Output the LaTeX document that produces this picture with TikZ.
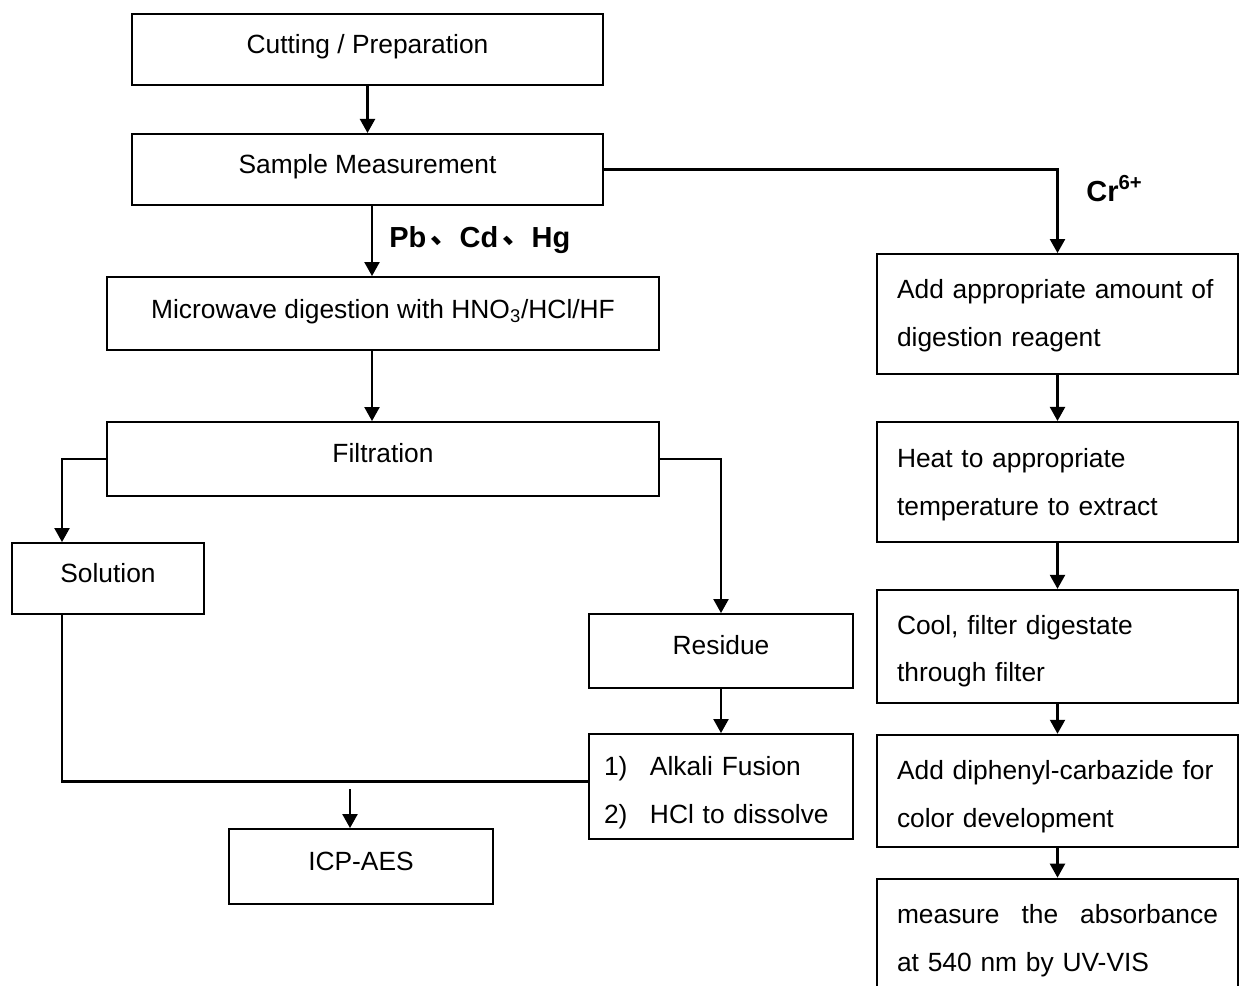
\documentclass[tikz,border=0pt]{standalone}
\usepackage{fontspec}
\setmainfont{Liberation Sans}
\newfontfamily\cjk{Noto Sans CJK SC}
\usetikzlibrary{arrows.meta, positioning, calc}

\begin{document}
\begin{tikzpicture}[
  x=0.02cm, y=-0.02cm,
  font=\fontsize{15pt}{27.2pt}\selectfont,
  box/.style = {draw, line width=1.1pt, inner sep=0pt, text height=0.72em, text depth=0.3em},
  stepbox/.style = {draw, line width=1.1pt, inner xsep=0.4cm, inner ysep=0pt, text width=6.42cm, align=left},
  drop/.style = {execute at begin node={\rule{0pt}{#1}}},
  arrow/.style = {line width=1.3pt, -{Triangle[width=3mm, length=2.8mm]}},
  link/.style = {line width=1.3pt},
  tag/.style = {font=\fontsize{16.5pt}{20pt}\selectfont\bfseries, inner sep=0pt, anchor=base west}
]

  \useasboundingbox (0,0) rectangle (1240,985);

  % Preparation and weighing
  \node[box, minimum width=9.42cm, minimum height=1.42cm] (cut) at (367.5,49.5) {Cutting / Preparation};
  \node[box, minimum width=9.42cm, minimum height=1.42cm, below=0.94cm of cut] (sample) {Sample Measurement};

  % Pb, Cd, Hg branch
  \node[box, text height=0.85em, minimum width=11.04cm, minimum height=1.46cm] (micro) at (383,313.5) {Microwave digestion with HNO\textsubscript{3}/HCl/HF};
  \node[box, minimum width=11.04cm, minimum height=1.48cm] (filt) at (383,459) {Filtration};
  \node[box, minimum width=3.84cm, minimum height=1.42cm] (sol) at (108,578.5) {Solution};
  \node[box, minimum width=5.28cm, minimum height=1.48cm] (res) at (721,651) {Residue};
  \node[draw, line width=1.1pt, inner xsep=0.3cm, inner ysep=0pt, text width=4.68cm, align=left,
        minimum height=2.1cm, drop=0.64cm] (alk) at (721,786.5)
        {\makebox[0.92cm][l]{1)}Alkali Fusion\\\makebox[0.92cm][l]{2)}HCl to dissolve};
  \node[box, minimum width=5.28cm, minimum height=1.5cm] (icp) at (361,866.5) {ICP-AES};

  % Cr(VI) branch
  \node[stepbox, minimum height=2.4cm, drop=0.44cm] (add) at (1057.5,314) {Add appropriate amount of\\digestion reagent};
  \node[stepbox, minimum height=2.4cm, drop=0.5cm, below=0.92cm of add] (heat) {Heat to appropriate\\temperature to extract};
  \node[stepbox, minimum height=2.26cm, drop=0.58cm, below=0.92cm of heat] (cool) {Cool, filter digestate\\through filter};
  \node[stepbox, minimum height=2.24cm, drop=0.62cm, below=0.6cm of cool] (dpc) {Add diphenyl-carbazide for\\color development};
  \node[stepbox, minimum height=2.24cm, drop=0.62cm, below=0.6cm of dpc] (uvvis) {measure\hfill the\hfill absorbance\\at 540 nm by UV-VIS};

  % labels
  \node[tag] (pbcd) at (389,247) {Pb\kern0.15em\raisebox{0.12em}{\cjk 、}Cd\kern0.15em\raisebox{0.12em}{\cjk 、}Hg};
  \node[tag] (cr) at (1086,201) {Cr\textsuperscript{6+}};

  % connectors
  \coordinate (spine) at (372,0);
  \coordinate (merge) at (350,789);
  \draw[arrow] (cut) -- (sample);
  \draw[arrow] (sample.south -| spine) -- (micro.north -| spine);
  \draw[arrow] (micro.south -| spine) -- (filt.north -| spine);
  \draw[arrow] (sample.east) -| (add.north);
  \draw[arrow] (filt.west) -| ([xshift=-0.92cm]sol.north);
  \draw[arrow] (filt.east) -| (res.north);
  \draw[arrow] (res) -- (alk);
  \draw[link] ([xshift=-0.92cm]sol.south) |- ([yshift=0.1cm]alk.west);
  \draw[arrow] (merge) -- (merge |- icp.north);
  \draw[arrow] (add) -- (heat);
  \draw[arrow] (heat) -- (cool);
  \draw[arrow] (cool) -- (dpc);
  \draw[arrow] (dpc) -- (uvvis);

\end{tikzpicture}
\end{document}
